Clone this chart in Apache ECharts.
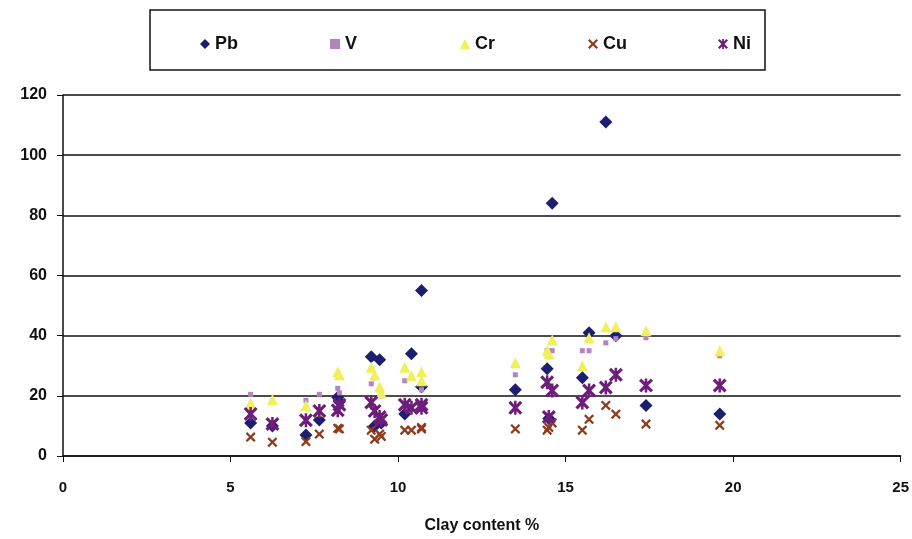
<!DOCTYPE html>
<html>
<head>
<meta charset="utf-8">
<script src="https://cdn.jsdelivr.net/npm/echarts@6/dist/echarts.min.js"></script>
<style>
  html, body { margin: 0; padding: 0; background: #fff; }
</style>
</head>
<body>
<div id="chart" style="width:912px;height:539px;"></div>
<script>
// clay content % of each sample
var clay = [5.6, 6.25, 7.25, 7.65, 8.2, 8.25, 9.2, 9.3, 9.45, 9.5, 10.2, 10.4, 10.7, 10.7,
            13.5, 14.45, 14.5, 14.6, 15.5, 15.7, 16.2, 16.5, 17.4, 19.6];
var pb = [11, 10, 7, 12, 19.5, 18, 33, 10, 32, 11, 14, 34, 55, 23,
          22, 29, 12.5, 84, 26, 41, 111, 40, 16.8, 14];
var v  = [20.5, 18, 18.5, 20.5, 22.5, 21, 24, 26, 22, 20, 25, 26, 22, 24,
          27, 35, 33, 35, 35, 35, 37.6, 39, 39.3, 33.3];
var cr = [17.5, 18.8, 16.8, 15, 28, 27, 29.5, 27, 23, 21, 29.5, 26.7, 25, 28,
          31, 35, 34, 38.6, 30, 39.3, 43, 43, 41.6, 35];
var cu = [6.3, 4.6, 4.8, 7.3, 9.2, 9, 8.6, 5.6, 7.3, 6.5, 8.6, 8.6, 9, 9.5,
          9, 8.6, 9.5, 11, 8.6, 12.2, 16.8, 13.9, 10.6, 10.2];
var ni = [14, 10.6, 11.9, 15, 15.2, 17, 17.8, 15, 13, 12, 17, 16, 17, 16,
          16, 24.5, 13, 21.8, 17.8, 21.8, 22.8, 27, 23.4, 23.4];

function pairs(ys) {
  return clay.map(function (x, i) { return [x, ys[i]]; });
}

var xMark = 'path://M0,1.6 L1.6,0 L5,3.4 L8.4,0 L10,1.6 L6.6,5 L10,8.4 L8.4,10 L5,6.6 L1.6,10 L0,8.4 L3.4,5 Z';
var starMark = 'path://M0,1.6 L1.6,0 L5,3.4 L8.4,0 L10,1.6 L6.6,5 L10,8.4 L8.4,10 L5,6.6 L1.6,10 L0,8.4 L3.4,5 Z M4.1,0 L5.9,0 L5.9,10 L4.1,10 Z';

var names = ['Pb', 'V', 'Cr', 'Cu', 'Ni'];
var legendLeft = [195, 325, 455, 583, 713];

var chart = echarts.init(document.getElementById('chart'));

var option = {
  animation: false,
  backgroundColor: '#fff',
  textStyle: { fontFamily: 'Liberation Sans, Arial, sans-serif' },
  graphic: [{
    type: 'rect',
    shape: { x: 150, y: 10, width: 615, height: 60 },
    style: { fill: '#fff', stroke: '#111', lineWidth: 1.5 },
    z: -1
  }],
  legend: names.map(function (n, i) {
    return {
      data: [n],
      left: legendLeft[i],
      top: 30,
      itemWidth: 10,
      itemHeight: 10,
      itemGap: 4,
      textStyle: { fontSize: 18, fontWeight: 'bold', color: '#111' }
    };
  }),
  grid: { left: 63, right: 9, top: 95, bottom: 80 },
  xAxis: {
    type: 'value',
    min: 0, max: 25, interval: 5,
    name: 'Clay content %',
    nameLocation: 'middle',
    nameGap: 62,
    nameTextStyle: { fontSize: 16, fontWeight: 'bold', color: '#111' },
    axisLine: { lineStyle: { color: '#111', width: 1.5 } },
    axisTick: { show: true, length: 6, lineStyle: { color: '#111' } },
    axisLabel: { fontSize: 15, fontWeight: 'bold', color: '#111', margin: 24 },
    splitLine: { show: false }
  },
  yAxis: {
    type: 'value',
    min: 0, max: 120, interval: 20,
    axisLine: { show: true, lineStyle: { color: '#111', width: 1.5 } },
    axisTick: { show: true, inside: false, length: 6, lineStyle: { color: '#111' } },
    axisLabel: { fontSize: 16, fontWeight: 'bold', color: '#111', margin: 16 },
    splitLine: { lineStyle: { color: '#111', width: 1.5 } }
  },
  series: [
    { name: 'Pb', type: 'scatter', symbol: 'diamond', symbolSize: 13,
      itemStyle: { color: '#1c1f6e', opacity: 1 }, data: pairs(pb) },
    { name: 'V', type: 'scatter', symbol: 'rect', symbolSize: 5,
      itemStyle: { color: '#b384bd', opacity: 1 }, data: pairs(v) },
    { name: 'Cr', type: 'scatter', symbol: 'triangle', symbolSize: 11,
      itemStyle: { color: '#f0f05a', opacity: 1 }, data: pairs(cr) },
    { name: 'Cu', type: 'scatter', symbol: xMark, symbolSize: 10,
      itemStyle: { color: '#8e3c1c', opacity: 1 }, data: pairs(cu) },
    { name: 'Ni', type: 'scatter', symbol: starMark, symbolSize: 14,
      itemStyle: { color: '#6e1e7a', opacity: 1 }, data: pairs(ni) }
  ]
};

chart.setOption(option);
</script>
</body>
</html>
